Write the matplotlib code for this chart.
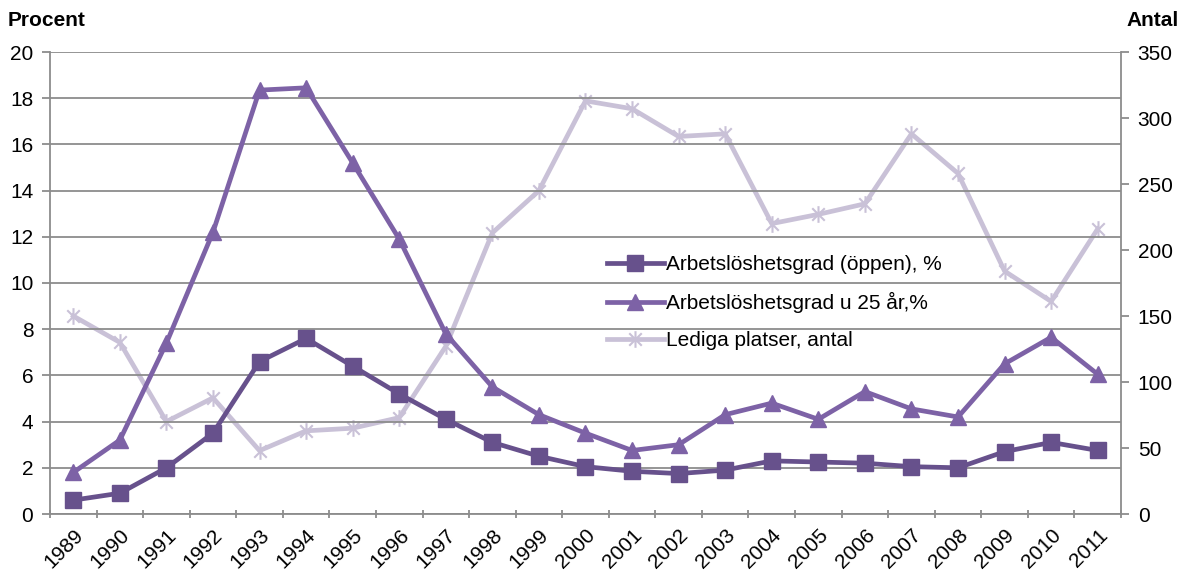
import matplotlib
matplotlib.use("Agg")
import matplotlib.pyplot as plt
import numpy as np
from matplotlib.path import Path

years = [str(y) for y in range(1989, 2012)]
oppen = [0.6, 0.9, 2.0, 3.5, 6.6, 7.6, 6.4, 5.2, 4.1, 3.1, 2.5, 2.05, 1.85, 1.75, 1.9, 2.3, 2.25, 2.2, 2.05, 2.0, 2.7, 3.1, 2.75]
u25 = [1.8, 3.2, 7.4, 12.2, 18.35, 18.45, 15.2, 11.9, 7.8, 5.5, 4.3, 3.5, 2.75, 3.0, 4.3, 4.8, 4.1, 5.3, 4.55, 4.2, 6.5, 7.65, 6.05]
lediga = [150, 130, 70, 88, 48, 63, 65, 73, 127, 213, 245, 313, 307, 286, 288, 220, 227, 235, 288, 258, 184, 161, 216]

plt.rcParams['font.family'] = ['Liberation Sans', 'DejaVu Sans']
FS = 15

fig = plt.figure(figsize=(11.81, 5.71), dpi=100)
ax = fig.add_axes([50/1181, 1-514/571, (1121-50)/1181, (514-52)/571])
ax2 = ax.twinx()

x = np.arange(len(years))
c_oppen = '#67518c'
c_u25 = '#7d62a6'
c_led = '#c9c1d7'

star = Path([(0, -1), (0, 1), (-0.75, -0.75), (0.75, 0.75), (-0.75, 0.75), (0.75, -0.75)],
            [Path.MOVETO, Path.LINETO, Path.MOVETO, Path.LINETO, Path.MOVETO, Path.LINETO])

l3, = ax2.plot(x, lediga, color=c_led, lw=3.4, marker=star, ms=12, mew=1.5, mec=c_led,
               label='Lediga platser, antal', zorder=2)
ax2.set_zorder(1)
ax.set_zorder(2)
ax.patch.set_visible(False)

l1, = ax.plot(x, oppen, color=c_oppen, lw=3.4, marker='s', ms=11, mec=c_oppen,
              label='Arbetslöshetsgrad (öppen), %', zorder=3)
l2, = ax.plot(x, u25, color=c_u25, lw=3.4, marker='^', ms=11, mec=c_u25,
              label='Arbetslöshetsgrad u 25 år,%', zorder=3)

ax.set_xlim(-0.5, len(years) - 0.5)
ax.set_ylim(0, 20)
ax2.set_ylim(0, 350)
ax.set_yticks(np.arange(0, 21, 2))
ax2.set_yticks(np.arange(0, 351, 50))

ax.grid(axis='y', color='#8c8c8c', lw=1.3)
ax.set_axisbelow(True)

ax.set_xticks(x)
ax.set_xticklabels(years, rotation=45, ha='right', va='top', rotation_mode='anchor', fontsize=FS)
ax.tick_params(axis='x', which='major', length=0, pad=8)
ax.set_xticks(np.arange(-0.5, len(years), 1), minor=True)
ax.tick_params(axis='x', which='minor', length=6, direction='inout', color='#8c8c8c', width=1.3)

ax.tick_params(axis='y', labelsize=FS, length=6, color='#8c8c8c', width=1.3, pad=6)
ax2.tick_params(axis='y', labelsize=FS, length=6, color='#8c8c8c', width=1.3, pad=6)

for a in (ax, ax2):
    for s in a.spines.values():
        s.set_visible(False)
    a.spines['left'].set_visible(a is ax)
    a.spines['right'].set_visible(a is ax2)
    a.spines['bottom'].set_visible(a is ax)
    for s in a.spines.values():
        s.set_color('#8c8c8c')
        s.set_linewidth(1.3)

fig.text(8/1181, 1-20/571, 'Procent', fontsize=FS, fontweight='bold', va='center', ha='left')
fig.text(1179/1181, 1-20/571, 'Antal', fontsize=FS, fontweight='bold', va='center', ha='right')

leg = ax.legend(handles=[l1, l2, l3], loc='upper left', bbox_to_anchor=(599/1181, 1-247/571),
                bbox_transform=fig.transFigure, frameon=False, fontsize=FS,
                handlelength=2.7, handletextpad=0.1, labelspacing=0.85, borderaxespad=0)

fig.savefig('out.png', dpi=100)
